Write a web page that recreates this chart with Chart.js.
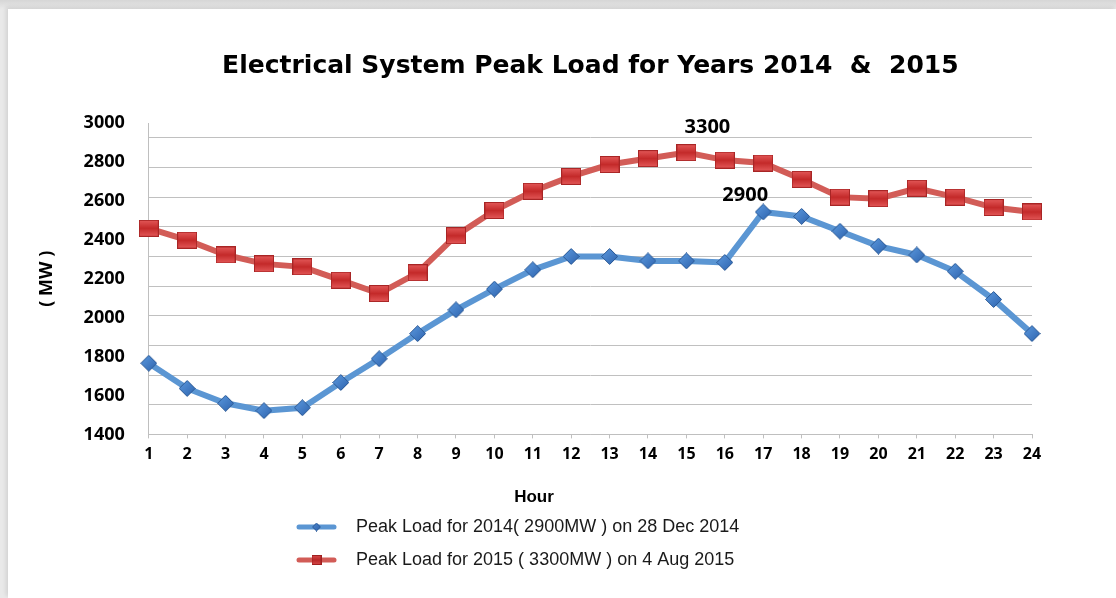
<!DOCTYPE html>
<html><head><meta charset="utf-8">
<script src="https://cdn.jsdelivr.net/npm/chart.js@4.4.1/dist/chart.umd.min.js"></script>
<style>
html,body{margin:0;padding:0;}
body{width:1116px;height:598px;position:relative;overflow:hidden;background:linear-gradient(#d6d6d6,#e9e9e9 9px,#e9e9e9);}
#card{position:absolute;left:8px;top:9px;right:0;bottom:0;background:#fff;box-shadow:-2px -2px 4px rgba(0,0,0,0.10);}
#wrap{position:absolute;left:0;top:0;width:1116px;height:598px;}
</style></head><body><div id="card"></div><div id="wrap"><canvas id="c" width="1116" height="598"></canvas></div>
<script>
// ---- data ----
const hours = ['1','2','3','4','5','6','7','8','9','10','11','12','13','14','15','16','17','18','19','20','21','22','23','24'];
const load2014 = [1880,1710,1610,1560,1580,1750,1910,2080,2240,2380,2510,2600,2600,2570,2570,2560,2900,2870,2770,2670,2610,2500,2310,2080];
const load2015 = [2790,2710,2610,2550,2530,2440,2350,2490,2740,2910,3040,3140,3220,3260,3300,3250,3230,3120,3000,2990,3060,3000,2930,2900];
const seriesNames = ['Peak Load for 2014( 2900MW ) on 28 Dec 2014','Peak Load for 2015 ( 3300MW ) on 4 Aug 2015'];
const gridValues = [1400,1600,1800,2000,2200,2400,2600,2800,3000,3200,3400];
const yTickLabels = [1400,1600,1800,2000,2200,2400,2600,2800,3000];
const peakPoints = [{series:1, index:14}, {series:0, index:16}];

// ---- marker images ----
function mk(w,h){const c=document.createElement('canvas');c.width=w;c.height=h;return c;}
function diamond(size,c1,c2,border){
  const c=mk(size,size),g=c.getContext('2d');
  const gr=g.createLinearGradient(0,0,size,size);gr.addColorStop(0,c1);gr.addColorStop(1,c2);
  g.beginPath();g.moveTo(size/2,0.5);g.lineTo(size-0.5,size/2);g.lineTo(size/2,size-0.5);g.lineTo(0.5,size/2);g.closePath();
  g.fillStyle=gr;g.fill();g.strokeStyle=border;g.lineWidth=1;g.stroke();return c;}
function square(w,h,c1,c2,border){
  const c=mk(w,h),g=c.getContext('2d');
  const gr=g.createLinearGradient(0,0,0,h);gr.addColorStop(0,c1);gr.addColorStop(0.5,c2);gr.addColorStop(1,c1);
  g.fillStyle=gr;g.fillRect(0.5,0.5,w-1,h-1);g.strokeStyle=border;g.lineWidth=1;g.strokeRect(0.5,0.5,w-1,h-1);return c;}
function legendImg(w,lineCol,marker){
  const c=mk(w,14),g=c.getContext('2d');
  g.strokeStyle=lineCol;g.lineWidth=5;g.lineCap='round';
  g.beginPath();g.moveTo(w-48,7);g.lineTo(w-13,7);g.stroke();
  g.drawImage(marker,(w-30.5)-marker.width/2,7-marker.height/2);return c;}
const blueMark=diamond(17,'#5d9be0','#2d62ad','#2a5894');
const redMark=square(20,17,'#e45a5a','#c42a2a','#a82525');
const LEGW=296;
const legBlue=legendImg(LEGW,'#5b96d3',diamond(9,'#4d86cc','#2d62ad','#2a5894'));
const legRed=legendImg(LEGW,'#d25c57',square(10,10,'#d84a4a','#b82828','#a02020'));

const peakLabelPlugin={
  id:'peakLabels',
  afterDatasetsDraw(chart,args,opts){
    const ctx=chart.ctx;ctx.save();
    ctx.font='bold 20px "Open Sans"';ctx.fillStyle='#000';ctx.textAlign='center';ctx.textBaseline='middle';
    peakPoints.forEach((p,i)=>{
      const el=chart.getDatasetMeta(p.series).data[p.index];
      const v=chart.data.datasets[p.series].data[p.index];
      const off=opts.offsets[i];
      ctx.fillText(String(v),el.x+off[0],el.y+off[1]);
    });
    ctx.restore();
  }
};

new Chart(document.getElementById('c'),{
  type:'line',
  data:{labels:hours,datasets:[
    {label:seriesNames[0],data:load2014,borderColor:'#5b96d3',backgroundColor:'#3f7fcf',borderWidth:6,tension:0,
     pointStyle:blueMark,pointRadius:9,pointHoverRadius:9,clip:false,yAxisID:'y'},
    {label:seriesNames[1],data:load2015,borderColor:'#d25c57',backgroundColor:'#c83232',borderWidth:6,tension:0,
     pointStyle:redMark,pointRadius:10,pointHoverRadius:10,clip:false,yAxisID:'y'}
  ]},
  options:{
    responsive:false,animation:false,
    layout:{padding:{left:36,right:84,top:0,bottom:19}},
    scales:{
      x:{type:'category',offset:false,
        grid:{drawOnChartArea:false,drawTicks:true,tickLength:4,color:'#bfbfbf'},
        border:{color:'#bfbfbf',width:1},
        ticks:{color:'#000',font:{family:'"Open Sans"',weight:'bold',size:16},padding:6,maxRotation:0,autoSkip:false}},
      y:{position:'left',weight:0,min:1400,max:3500,
        afterBuildTicks:(s)=>{s.ticks=gridValues.map(v=>({value:v}));},
        grid:{color:'#c0c0c0',drawTicks:false,lineWidth:1},
        border:{color:'#bfbfbf',width:1},
        ticks:{display:false}},
      yL:{position:'left',weight:1,min:1400,max:3000,
        afterBuildTicks:(s)=>{s.ticks=yTickLabels.map(v=>({value:v}));},
        grid:{display:false,drawTicks:false},border:{display:false},
        ticks:{color:'#000',font:{family:'"Open Sans"',weight:'bold',size:18},padding:24,callback:(v)=>String(v)},
        title:{display:true,text:'( MW )',color:'#000',font:{family:'"Open Sans"',weight:'bold',size:18},padding:{top:0,bottom:2}}}
    },
    plugins:{
      title:{display:true,fullSize:false,text:'Electrical System Peak Load for Years 2014  &  2015',color:'#000',
        font:{family:'"DejaVu Sans"',weight:'bold',size:25},padding:{top:51,bottom:42}},
      subtitle:{display:true,text:'Hour',position:'bottom',weight:500,fullSize:true,color:'#000',
        font:{family:'"Liberation Sans"',weight:'bold',size:17},padding:{top:18,bottom:-5}},
      legend:{position:'bottom',align:'start',
        labels:{usePointStyle:true,pointStyleWidth:LEGW,padding:15,color:'#1a1a1a',
          font:{family:'"Liberation Sans"',size:18},
          generateLabels:(chart)=>{
            const items=Chart.defaults.plugins.legend.labels.generateLabels(chart);
            items.forEach((it,i)=>{it.pointStyle=i===0?legBlue:legRed;});
            return items;}}},
      tooltip:{enabled:false},
      peakLabels:{offsets:[[21,-25],[-18,-17]]}
    }
  },
  plugins:[peakLabelPlugin]
});
</script></body></html>
